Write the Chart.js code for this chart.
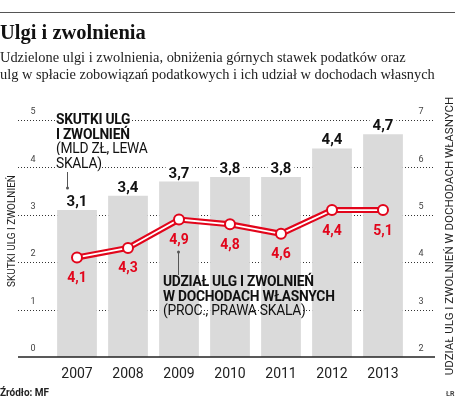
<!DOCTYPE html>
<html>
<head>
<meta charset="utf-8">
<script src="https://cdn.jsdelivr.net/npm/chart.js@4.4.1/dist/chart.umd.min.js"></script>
<style>
  html, body { margin: 0; padding: 0; background: #fff; }
  #wrap { position: relative; width: 460px; height: 402px; overflow: hidden; }
  #c { position: absolute; left: 0; top: 0; }
  .t { position: absolute; white-space: nowrap; }
  #rule { position: absolute; left: 0; top: 12px; width: 455px; height: 0; border-top: 1.2px solid #555; }
  #title { left: 0; top: 21px; font: bold 20.5px "Liberation Serif", serif; color: #111; }
  #sub { left: 0; top: 49px; font: 14.4px/17px "Liberation Serif", serif; color: #222; }
  .ann { font-family: Roboto, sans-serif; font-size: 13.8px; line-height: 14.5px; color: #111; letter-spacing: -0.25px; }
  .ann b { font-weight: 700; }
  .ann span { background: #fff; }
  #a1 { left: 56px; top: 112px; }
  #a2 { left: 163px; top: 274px; }
  #src { left: 0; top: 387px; font: bold 10px Roboto, sans-serif; color: #222; }
  #lr { left: 446px; top: 390px; font: bold 7px Roboto, sans-serif; color: #444; }
</style>
</head>
<body>
<div id="wrap">
  <canvas id="c" width="460" height="402"></canvas>
  <div id="rule"></div>
  <div class="t" id="title">Ulgi i zwolnienia</div>
  <div class="t" id="sub">Udzielone ulgi i zwolnienia, obniżenia górnych stawek podatków oraz<br>ulg w spłacie zobowiązań podatkowych i ich udział w dochodach własnych</div>
  <div class="t ann" id="a1"><span><b>SKUTKI ULG</b></span><br><span><b>I ZWOLNIEŃ</b></span><br><span>(MLD ZŁ, LEWA</span><br><span>SKALA)</span></div>
  <div class="t ann" id="a2"><b>UDZIAŁ ULG I ZWOLNIEŃ</b><br><b>W DOCHODACH WŁASNYCH</b><br>(PROC., PRAWA SKALA)</div>
  <div class="t" id="src">Źródło: MF</div>
  <div class="t" id="lr">ŁR</div>
</div>
<script>
const years = ['2007', '2008', '2009', '2010', '2011', '2012', '2013'];
const reliefBn = [3.1, 3.4, 3.7, 3.8, 3.8, 4.4, 4.7];
const reliefLabels = ['3,1', '3,4', '3,7', '3,8', '3,8', '4,4', '4,7'];
const sharePct = [4.1, 4.3, 4.9, 4.8, 4.6, 5.1, 5.1];
const shareLabels = ['4,1', '4,3', '4,9', '4,8', '4,6', '4,4', '5,1'];
const leftTicks = [0, 1, 2, 3, 4, 5];
const rightTicks = [2, 3, 4, 5, 6, 7];
const leftTitle = 'SKUTKI ULG I ZWOLNIEŃ';
const rightTitle = 'UDZIAŁ ULG I ZWOLNIEŃ W DOCHODACH WŁASNYCH';

const RED = '#e2051b';
const SANS = 'Roboto, sans-serif';

const decor = {
  id: 'decor',
  beforeDatasetsDraw(chart) {
    const ctx = chart.ctx;
    const y = chart.scales.y, y1 = chart.scales.y1, x = chart.scales.x;
    const x0 = 18, x1 = 435;
    ctx.save();
    leftTicks.forEach(v => {
      if (v === 0) return;
      const py = Math.round(y.getPixelForValue(v)) + 0.5;
      ctx.beginPath();
      ctx.setLineDash([1, 2]);
      ctx.strokeStyle = '#333';
      ctx.lineWidth = 1;
      ctx.moveTo(x0, py); ctx.lineTo(x1, py); ctx.stroke();
    });
    ctx.setLineDash([]);
    ctx.font = '9px ' + SANS;
    ctx.fillStyle = '#444';
    ctx.textAlign = 'center';
    ctx.textBaseline = 'middle';
    leftTicks.forEach(v => {
      ctx.fillText(String(v), 33, y.getPixelForValue(v) - 8);
    });
    rightTicks.forEach(v => {
      ctx.fillText(String(v), 421, y1.getPixelForValue(v) - 8);
    });
    ctx.fillStyle = '#222';
    ctx.font = '10px ' + SANS;
    ctx.save();
    ctx.translate(12, 231);
    ctx.rotate(-Math.PI / 2);
    ctx.fillText(leftTitle, 0, 0);
    ctx.restore();
    ctx.font = '11.5px ' + SANS;
    ctx.save();
    ctx.translate(450, 236);
    ctx.rotate(-Math.PI / 2);
    ctx.fillText(rightTitle, 0, 0);
    ctx.restore();
    ctx.font = '14px ' + SANS;
    ctx.fillStyle = '#222';
    years.forEach((yr, i) => {
      ctx.fillText(yr, x.getPixelForValue(i), 374);
    });
    ctx.restore();
  },
  afterDatasetsDraw(chart) {
    const ctx = chart.ctx;
    const y = chart.scales.y;
    ctx.save();
    const by = y.getPixelForValue(0);
    ctx.beginPath();
    ctx.strokeStyle = '#222';
    ctx.lineWidth = 1.5;
    ctx.moveTo(18, by); ctx.lineTo(435, by); ctx.stroke();
    const barMeta = chart.getDatasetMeta(0);
    ctx.font = 'bold 15px ' + SANS;
    ctx.textAlign = 'center';
    ctx.textBaseline = 'alphabetic';
    barMeta.data.forEach((bar, i) => {
      const t = reliefLabels[i];
      const w = ctx.measureText(t).width;
      ctx.fillStyle = '#fff';
      ctx.fillRect(bar.x - w / 2 - 3, bar.y - 15, w + 6, 12);
      ctx.fillStyle = '#111';
      ctx.fillText(t, bar.x, bar.y - 4);
    });
    const lineMeta = chart.getDatasetMeta(2);
    ctx.font = 'bold 14px ' + SANS;
    ctx.fillStyle = RED;
    ctx.textBaseline = 'middle';
    lineMeta.data.forEach((pt, i) => {
      ctx.fillText(shareLabels[i], pt.x, pt.y + 21);
    });
    ctx.strokeStyle = '#555';
    ctx.lineWidth = 1;
    ctx.fillStyle = '#555';
    ctx.beginPath(); ctx.moveTo(67.5, 172); ctx.lineTo(67.5, 188); ctx.stroke();
    ctx.beginPath(); ctx.arc(67.5, 188, 1.5, 0, Math.PI * 2); ctx.fill();
    ctx.beginPath(); ctx.moveTo(178.5, 252); ctx.lineTo(178.5, 275); ctx.stroke();
    ctx.beginPath(); ctx.arc(178.5, 252, 1.5, 0, Math.PI * 2); ctx.fill();
    ctx.restore();
  }
};

new Chart(document.getElementById('c'), {
  data: {
    labels: years,
    datasets: [
      {
        type: 'bar',
        data: reliefBn,
        yAxisID: 'y',
        backgroundColor: '#dadada',
        barPercentage: 0.78,
        categoryPercentage: 1,
        order: 3
      },
      {
        type: 'line',
        data: sharePct,
        yAxisID: 'y1',
        borderColor: RED,
        borderWidth: 6,
        pointRadius: 0,
        tension: 0,
        order: 2
      },
      {
        type: 'line',
        data: sharePct,
        yAxisID: 'y1',
        borderColor: '#fff',
        borderWidth: 1.8,
        pointRadius: 5,
        pointBackgroundColor: '#fff',
        pointBorderColor: RED,
        pointBorderWidth: 2,
        tension: 0,
        order: 1
      }
    ]
  },
  options: {
    responsive: false,
    animation: false,
    devicePixelRatio: 1,
    layout: { padding: { left: 51.5, right: 51.5, top: 120, bottom: 45 } },
    plugins: { legend: { display: false }, tooltip: { enabled: false } },
    scales: {
      x: { display: false, offset: true },
      y: { display: false, min: 0, max: 5 },
      y1: { display: false, min: 2, max: 7, position: 'right' }
    }
  },
  plugins: [decor]
});
</script>
</body>
</html>
